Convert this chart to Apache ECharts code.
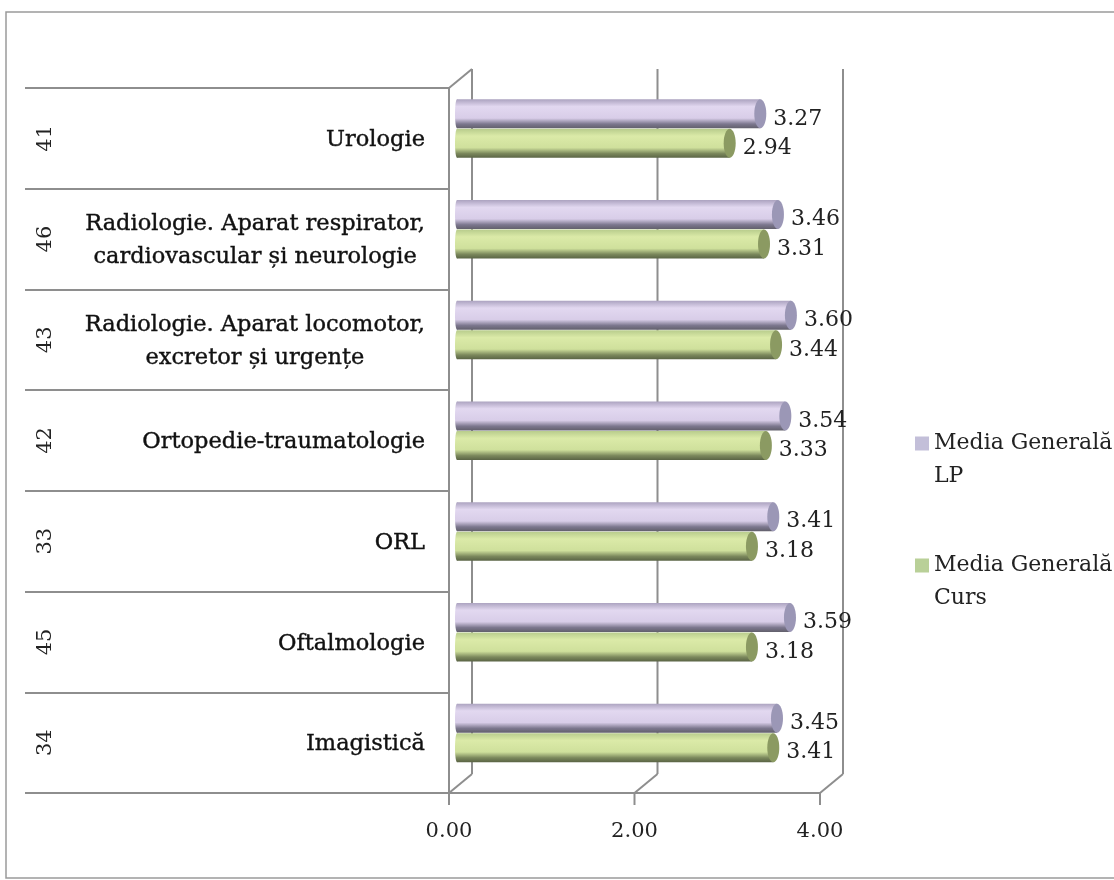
<!DOCTYPE html>
<html>
<head>
<meta charset="utf-8">
<style>
html, body { margin: 0; padding: 0; background: #fff; }
#chart { width: 1114px; height: 880px; }
</style>
<script src="https://cdn.jsdelivr.net/npm/echarts@6/dist/echarts.min.js"></script>
</head>
<body>
<div id="chart"></div>
<script>
var categories = [
    ['Urologie'],
    ['Radiologie. Aparat respirator,', 'cardiovascular și neurologie'],
    ['Radiologie. Aparat locomotor,', 'excretor și urgențe'],
    ['Ortopedie-traumatologie'],
    ['ORL'],
    ['Oftalmologie'],
    ['Imagistică']
];
var ids = ['41', '46', '43', '42', '33', '45', '34'];
var mediaLP = [3.27, 3.46, 3.60, 3.54, 3.41, 3.59, 3.45];
var mediaCurs = [2.94, 3.31, 3.44, 3.33, 3.18, 3.18, 3.41];
var xTicks = [0, 2, 4];

var FONT = '"DejaVu Serif"';
var LINE = '#8e8e8e';
// decalajul peretelui din spate
var DEPTH_X = 23, DEPTH_Y = -19;
var TICK_LEN = 12;

function wallItem(params, api) {
    var band = api.size([0, 1])[1];
    var first = api.coord([api.value(0), 0]);
    var last = api.coord([api.value(0), ids.length - 1]);
    var x = first[0], top = first[1] - band / 2, bottom = last[1] + band / 2;
    var backX = x + DEPTH_X;
    var style = { stroke: LINE, lineWidth: 2, fill: null };
    var children = [
        { type: 'line', shape: { x1: x, y1: bottom, x2: x, y2: bottom + TICK_LEN }, style: style },
        { type: 'line', shape: { x1: x, y1: bottom, x2: backX, y2: bottom + DEPTH_Y }, style: style },
        { type: 'line', shape: { x1: backX, y1: bottom + DEPTH_Y, x2: backX, y2: top + DEPTH_Y }, style: style }
    ];
    if (api.value(0) === 0) {
        children.push({ type: 'line', shape: { x1: x, y1: top, x2: backX, y2: top + DEPTH_Y }, style: style });
    }
    return { type: 'group', children: children };
}

function cylinder(shift, stops, capColor) {
    return function (params, api) {
        var p = api.coord([api.value(0), api.value(1)]);
        var zero = api.coord([0, api.value(1)]);
        var h = 29;
        var x0 = zero[0] + 8, x1 = p[0] + 8;
        var cy = p[1] + shift;
        var grad = new echarts.graphic.LinearGradient(0, 0, 0, 1, stops);
        return {
            type: 'group',
            children: [
                { type: 'ellipse', shape: { cx: x0, cy: cy, rx: 2, ry: h / 2 }, style: { fill: grad } },
                { type: 'rect', shape: { x: x0, y: cy - h / 2, width: x1 - x0, height: h }, style: { fill: grad } },
                { type: 'ellipse', shape: { cx: x1, cy: cy, rx: 6, ry: h / 2 }, style: { fill: capColor } },
                {
                    type: 'text',
                    style: {
                        x: x1 + 13, y: cy + 5,
                        text: api.value(0).toFixed(2),
                        font: '22px ' + FONT,
                        fill: '#222',
                        verticalAlign: 'middle'
                    }
                }
            ]
        };
    };
}

var chart = echarts.init(document.getElementById('chart'), null, { renderer: 'canvas' });
var option = {
    backgroundColor: '#fff',
    animation: false,
    grid: { left: 449, right: 294, top: 88, bottom: 87, containLabel: false },
    graphic: [{
        type: 'rect',
        silent: true,
        z: -10,
        shape: { x: 6, y: 12, width: 1140, height: 866 },
        style: { fill: null, stroke: '#9a9a9a', lineWidth: 1.5 }
    }],
    legend: {
        orient: 'vertical',
        left: 910,
        top: 422,
        itemGap: 56,
        itemWidth: 14,
        itemHeight: 47,
        data: [
            { name: 'Media Generală\nLP', icon: 'path://M0 0H14V14H0Z M0 47H14Z', itemStyle: { color: '#c3bfd9' } },
            { name: 'Media Generală\nCurs', icon: 'path://M0 0H14V14H0Z M0 47H14Z', itemStyle: { color: '#b9d098' } }
        ],
        textStyle: { fontFamily: FONT, fontSize: 22, lineHeight: 33, color: '#222' }
    },
    xAxis: {
        type: 'value',
        min: 0,
        max: 4,
        interval: 2,
        splitLine: { show: false },
        axisLine: { show: true, onZero: false, lineStyle: { color: LINE, width: 2 } },
        axisTick: { show: false },
        axisLabel: {
            margin: 28,
            color: '#222',
            fontFamily: FONT,
            fontSize: 21,
            formatter: function (v) { return v.toFixed(2); }
        }
    },
    yAxis: [{
        type: 'category',
        inverse: true,
        data: categories.map(function (c) {
            return c.map(function (line) { return '{a|' + line + '}'; }).join('\n');
        }),
        axisLine: { show: true, lineStyle: { color: LINE, width: 2 } },
        axisTick: { show: true, length: 424, lineStyle: { color: LINE, width: 2 } },
        axisLabel: {
            margin: 24,
            align: 'right',
            interval: 0,
            padding: [4, 0, 0, 0],
            rich: {
                a: {
                    align: 'center', fontFamily: FONT, fontSize: 22.5, lineHeight: 33, color: '#111',
                    textBorderColor: '#111', textBorderWidth: 0.4
                }
            }
        }
    }, {
        type: 'category',
        inverse: true,
        position: 'left',
        offset: 384,
        data: ids,
        axisLine: { show: false },
        axisTick: { show: false },
        axisLabel: { rotate: 90, margin: 9, interval: 0, color: '#222', fontFamily: FONT, fontSize: 21 }
    }],
    series: [{
        type: 'custom',
        name: 'perete',
        coordinateSystem: 'cartesian2d',
        renderItem: wallItem,
        silent: true,
        clip: false,
        z: 1,
        data: xTicks.map(function (t) { return [t]; }),
        encode: { x: 0 }
    }, {
        type: 'custom',
        name: 'Media Generală\nLP',
        renderItem: cylinder(-24.5, [
            { offset: 0, color: '#aca3c0' },
            { offset: 0.25, color: '#e2d8f0' },
            { offset: 0.65, color: '#d8cde8' },
            { offset: 0.85, color: '#7c778e' },
            { offset: 1, color: '#62606c' }
        ], '#9b97b6'),
        itemStyle: { color: '#c3bfd9' },
        z: 3,
        data: mediaLP.map(function (v, i) { return [v, i]; }),
        encode: { x: 0, y: 1 }
    }, {
        type: 'custom',
        name: 'Media Generală\nCurs',
        renderItem: cylinder(5, [
            { offset: 0, color: '#b8cc8c' },
            { offset: 0.25, color: '#dbeaa8' },
            { offset: 0.65, color: '#cfe09c' },
            { offset: 0.85, color: '#7b885c' },
            { offset: 1, color: '#5a6445' }
        ], '#8b9a62'),
        itemStyle: { color: '#b9d098' },
        z: 4,
        data: mediaCurs.map(function (v, i) { return [v, i]; }),
        encode: { x: 0, y: 1 }
    }]
};
chart.setOption(option);
</script>
</body>
</html>
